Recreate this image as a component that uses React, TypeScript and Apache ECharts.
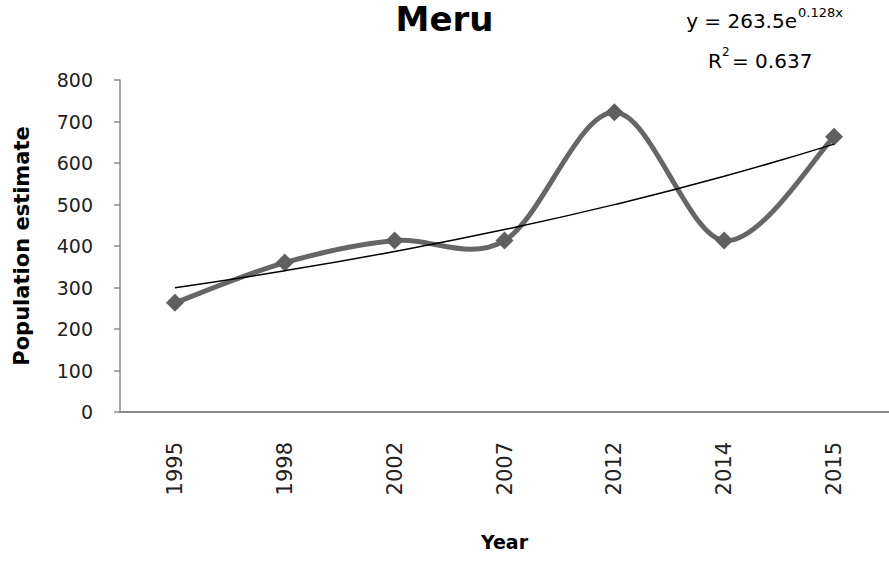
import React, { useEffect, useRef } from "react";
import * as echarts from "echarts";

const years = ["1995", "1998", "2002", "2007", "2012", "2014", "2015"];
const population = [263, 360, 413, 413, 722, 413, 663];
// exponential trendline y = 263.5e^(0.128x), values read at each category
const trend = [299.5, 340.4, 386.9, 439.7, 499.7, 568.0, 645.5];
const yTicks = { min: 0, max: 800, interval: 100 };

const FONT = "DejaVu Sans";

export default function App() {
  const ref = useRef<HTMLDivElement>(null);
  useEffect(() => {
    if (!ref.current) return;
    const chart = echarts.init(ref.current, null, { renderer: "svg" });
    chart.setOption({
      animation: false,
      backgroundColor: "#ffffff",
      title: {
        text: "Meru",
        left: "center",
        top: -3,
        textStyle: { fontFamily: FONT, fontSize: 34, fontWeight: "bold", color: "#000" },
      },
      grid: { left: 120, top: 80, width: 774, height: 332, containLabel: false },
      xAxis: {
        type: "category",
        data: years,
        boundaryGap: true,
        name: "Year",
        nameLocation: "middle",
        nameGap: 120,
        nameTextStyle: { fontFamily: FONT, fontSize: 19, fontWeight: "bold", color: "#000" },
        axisLine: { lineStyle: { color: "#8a8a8a", width: 2 } },
        axisTick: { show: false },
        axisLabel: { rotate: 90, margin: 30, fontFamily: FONT, fontSize: 21, color: "#222" },
        splitLine: { show: false },
      },
      yAxis: {
        type: "value",
        min: yTicks.min,
        max: yTicks.max,
        interval: yTicks.interval,
        name: "Population estimate",
        nameLocation: "middle",
        nameGap: 88,
        nameTextStyle: { fontFamily: FONT, fontSize: 21, fontWeight: "bold", color: "#000" },
        axisLine: { show: true, lineStyle: { color: "#8a8a8a", width: 1.5 } },
        axisTick: { show: true, length: 6, lineStyle: { color: "#8a8a8a", width: 1.5 } },
        axisLabel: { margin: 27, fontFamily: FONT, fontSize: 19, color: "#222" },
        splitLine: { show: false },
      },
      series: [
        {
          type: "custom",
          data: population.map((v, i) => [i, v]),
          encode: { x: 0, y: 1 },
          z: 2,
          renderItem: (params: any, api: any) => {
            if (params.dataIndex !== 0) return null;
            const pts = population.map((v, i) => api.coord([i, v]));
            const n = pts.length;
            let d = `M${pts[0][0]},${pts[0][1]}`;
            for (let i = 0; i < n - 1; i++) {
              const p0 = pts[Math.max(i - 1, 0)];
              const p1 = pts[i];
              const p2 = pts[i + 1];
              const p3 = pts[Math.min(i + 2, n - 1)];
              const c1x = p1[0] + (p2[0] - p0[0]) / 6;
              const c1y = p1[1] + (p2[1] - p0[1]) / 6;
              const c2x = p2[0] - (p3[0] - p1[0]) / 6;
              const c2y = p2[1] - (p3[1] - p1[1]) / 6;
              d += ` C${c1x},${c1y} ${c2x},${c2y} ${p2[0]},${p2[1]}`;
            }
            return {
              type: "path",
              shape: { pathData: d },
              style: { fill: "none", stroke: "#666666", lineWidth: 5, lineJoin: "round", lineCap: "round" },
            };
          },
        },
        {
          type: "scatter",
          data: population,
          symbol: "diamond",
          symbolSize: 18,
          itemStyle: { color: "#5f5f5f", opacity: 1 },
          z: 3,
        },
        {
          type: "line",
          data: trend,
          smooth: true,
          symbol: "none",
          lineStyle: { color: "#000000", width: 1.5 },
          z: 4,
        },
      ],
      graphic: [
        {
          type: "text",
          x: 797,
          y: 21,
          style: { text: "y = 263.5e", fontFamily: FONT, fontSize: 20, fill: "#000", align: "right", verticalAlign: "middle" },
        },
        {
          type: "text",
          x: 798,
          y: 12,
          style: { text: "0.128x", fontFamily: FONT, fontSize: 13, fill: "#000", align: "left", verticalAlign: "middle" },
        },
        {
          type: "text",
          x: 722,
          y: 61,
          style: { text: "R", fontFamily: FONT, fontSize: 20, fill: "#000", align: "right", verticalAlign: "middle" },
        },
        {
          type: "text",
          x: 722,
          y: 52,
          style: { text: "2", fontFamily: FONT, fontSize: 12, fill: "#000", align: "left", verticalAlign: "middle" },
        },
        {
          type: "text",
          x: 732,
          y: 61,
          style: { text: "= 0.637", fontFamily: FONT, fontSize: 20, fill: "#000", align: "left", verticalAlign: "middle" },
        },
      ],
    });
    return () => chart.dispose();
  }, []);
  return (
    <div
      ref={ref}
      style={{ position: "fixed", left: 0, top: 0, width: 889, height: 563, background: "#fff" }}
    />
  );
}
